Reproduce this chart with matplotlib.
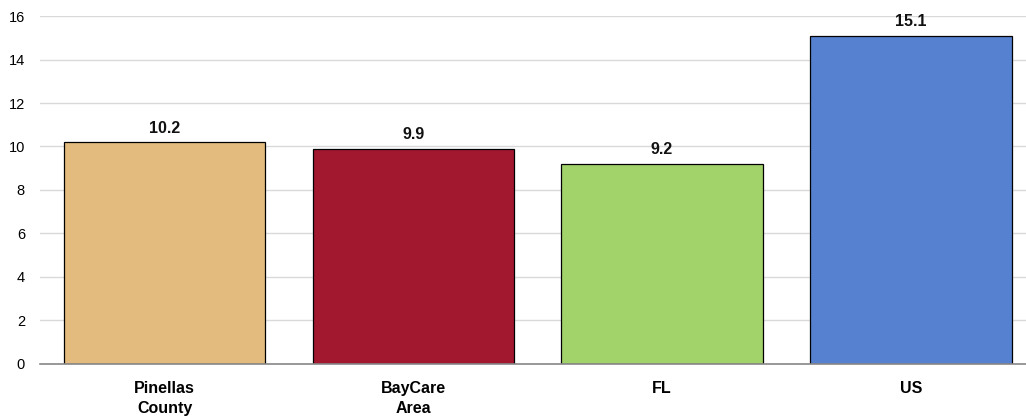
import matplotlib.pyplot as plt
import numpy as np

plt.rcParams["font.family"] = ["Liberation Sans", "DejaVu Sans"]

categories = ["Pinellas\nCounty", "BayCare\nArea", "FL", "US"]
values = [10.2, 9.9, 9.2, 15.1]
colors = ["#E4BB7E", "#A2182F", "#A2D26A", "#5681D0"]
yticks = [0, 2, 4, 6, 8, 10, 12, 14, 16]

fig = plt.figure(figsize=(10.26, 4.19), dpi=100)
ax = fig.add_axes([0.0392, 0.1313, 0.9698, 0.8305])

x = np.arange(len(categories))
bars = ax.bar(x, values, width=0.81, color=colors, edgecolor="black", linewidth=0.9, zorder=3)
for b, v in zip(bars, values):
    ax.text(b.get_x() + b.get_width() / 2, v + 0.3, f"{v:.1f}", ha="center", va="bottom",
            fontsize=11.5, fontweight="bold", color="#111111")

ax.set_xlim(-0.5, len(categories) - 0.5)
ax.set_ylim(0, 16)
ax.set_yticks(yticks)
ax.set_xticks(x)
ax.set_xticklabels(categories, fontsize=11.5, fontweight="bold", linespacing=1.45)
ax.tick_params(axis="y", length=0, labelsize=10.5, pad=11)
ax.tick_params(axis="x", length=0, pad=12)
ax.grid(axis="y", color="#D9D9D9", linewidth=1, zorder=0)
for s in ["top", "right", "left"]:
    ax.spines[s].set_visible(False)
ax.spines["bottom"].set_color("#888888")
ax.spines["bottom"].set_linewidth(1.2)
ax.spines["bottom"].set_zorder(4)

fig.savefig("out.png", dpi=100)
